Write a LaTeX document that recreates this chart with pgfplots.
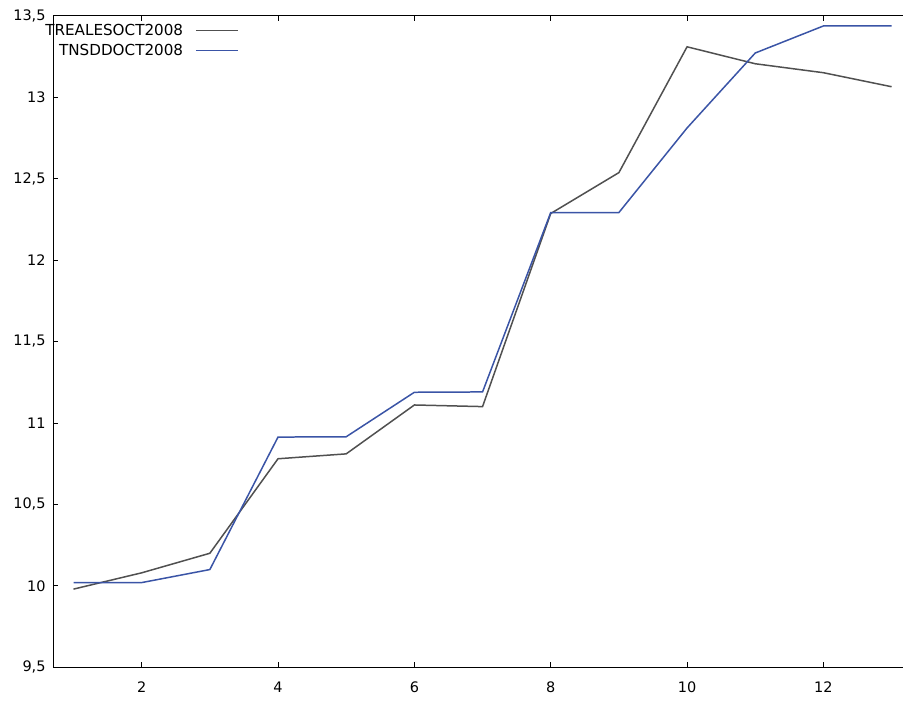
\documentclass[border={10pt 5pt 0pt 6pt}]{standalone}
\usepackage{fontspec}
\setmainfont{DejaVu Sans}
\usepackage{pgfplots}
\pgfplotsset{compat=1.18}
\definecolor{lgray}{RGB}{80,80,80}
\definecolor{lblue}{RGB}{58,84,166}
\begin{document}
\begin{tikzpicture}
\begin{axis}[
  scale only axis,
  width=851pt, height=653pt,
  xmin=0.70, xmax=13.16,
  ymin=9.5, ymax=13.5,
  axis x line=box, axis y line=left,
  y axis line style={-},
  axis line style={line width=1pt, black},
  xtick={2,4,6,8,10,12},
  ytick={9.5,10,10.5,11,11.5,12,12.5,13,13.5},
  tick align=inside,
  major tick length=5pt,
  tick style={line width=0.8pt, black},
  font=\fontsize{14.5}{17}\selectfont,
  /pgf/number format/assume math mode=true,
  /pgf/number format/use comma,
  xticklabel style={yshift=-11pt},
  yticklabel style={xshift=-4pt},
  legend plot pos=right,
  legend cell align=right,
  legend image code/.code={\path (0pt,0pt); \draw[#1, line width=1.5pt] (10pt,0pt) -- (52pt,0pt);},
  legend style={draw=none, fill=none, anchor=north east, at={(0.2186,0.99)},
    inner sep=0pt, row sep=3pt, font=\fontsize{15.2}{17}\selectfont},
  clip=false,
]
\addplot[lgray, line width=1.5pt] coordinates {
(1,9.98) (2,10.08) (3,10.20) (4,10.78) (5,10.81) (6,11.11) (7,11.10)
(8,12.285) (9,12.536) (10,13.308) (11,13.204) (12,13.149) (13,13.063)};
\addlegendentry{TREALESOCT2008}
\addplot[lblue, line width=1.5pt] coordinates {
(1,10.02) (2,10.02) (3,10.10) (4,10.913) (5,10.915) (6,11.188) (7,11.19)
(8,12.291) (9,12.291) (10,12.81) (11,13.27) (12,13.436) (13,13.436)};
\addlegendentry{TNSDDOCT2008}
\end{axis}
\end{tikzpicture}
\end{document}
